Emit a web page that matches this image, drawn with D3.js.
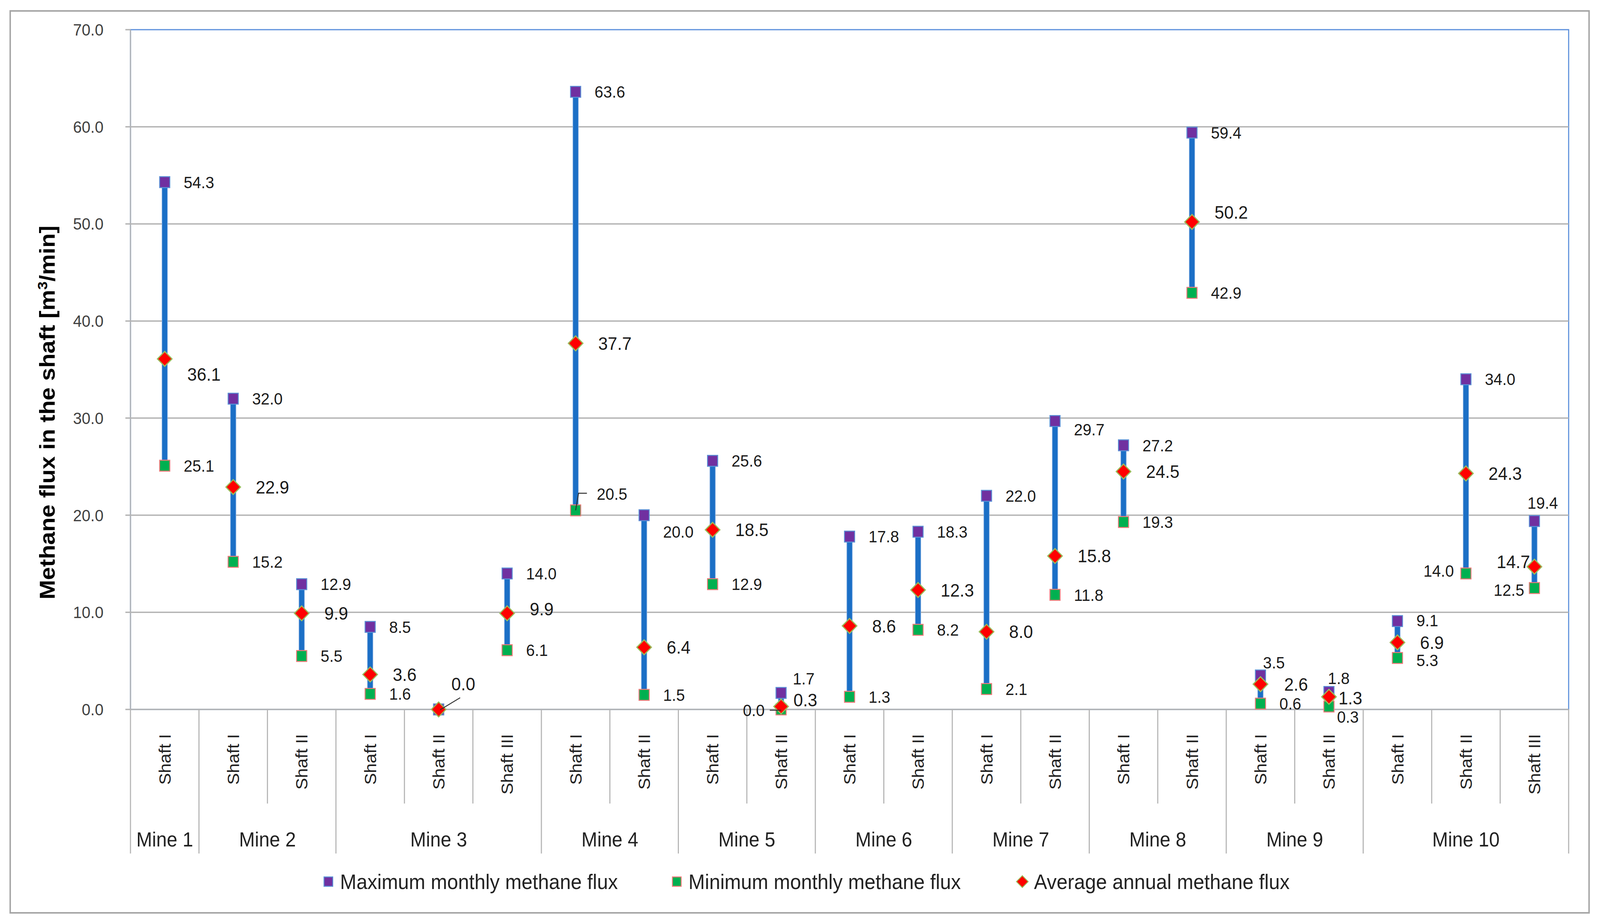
<!DOCTYPE html>
<html>
<head>
<meta charset="utf-8">
<script src="https://cdn.jsdelivr.net/npm/d3@7"></script>
<style>
  html, body { margin: 0; padding: 0; background: #fff; overflow: hidden; }
  svg { display: block; width: 100vw; height: 100vh; }
  text { font-family: "Liberation Sans", Arial, sans-serif; }
</style>
</head>
<body>
<svg id="chart" viewBox="0 0 4390 2364" preserveAspectRatio="none"></svg>
<script>
const shafts = [
  "Shaft I",
  "Shaft I", "Shaft II",
  "Shaft I", "Shaft II", "Shaft III",
  "Shaft I", "Shaft II",
  "Shaft I", "Shaft II",
  "Shaft I", "Shaft II",
  "Shaft I", "Shaft II",
  "Shaft I", "Shaft II",
  "Shaft I", "Shaft II",
  "Shaft I", "Shaft II", "Shaft III"
];
const mines = ["Mine 1", "Mine 2", "Mine 3", "Mine 4", "Mine 5", "Mine 6", "Mine 7", "Mine 8", "Mine 9", "Mine 10"];
const mineShaftCount = [1, 2, 3, 2, 2, 2, 2, 2, 2, 3];

const maxFlux = [54.3, 32.0, 12.9, 8.5, 0.0, 14.0, 63.6, 20.0, 25.6, 1.7, 17.8, 18.3, 22.0, 29.7, 27.2, 59.4, 3.5, 1.8, 9.1, 34.0, 19.4];
const minFlux = [25.1, 15.2, 5.5, 1.6, 0.0, 6.1, 20.5, 1.5, 12.9, 0.0, 1.3, 8.2, 2.1, 11.8, 19.3, 42.9, 0.6, 0.3, 5.3, 14.0, 12.5];
const avgFlux = [36.1, 22.9, 9.9, 3.6, 0.0, 9.9, 37.7, 6.4, 18.5, 0.3, 8.6, 12.3, 8.0, 15.8, 24.5, 50.2, 2.6, 1.3, 6.9, 24.3, 14.7];

const yTicks = [0, 10, 20, 30, 40, 50, 60, 70];
const legendLabels = ["Maximum monthly methane flux", "Minimum monthly methane flux", "Average annual methane flux"];

// hand-placed data labels, like the moved labels in the original chart
const labelNudge = {
  "avg-0": { dy: 39 },
  "max-4": { hide: true },
  "min-4": { hide: true },
  "avg-4": { ox: 35, dy: -65, leader: [[4, 1], [59, -30]] },
  "avg-5": { dy: -11 },
  "min-6": { ox: 58, dy: -42, leader: [[0, 0], [8, -44], [31, -44]] },
  "max-7": { dy: 42 },
  "max-9": { ox: 32, dy: -37 },
  "avg-9": { ox: 34, dy: -17 },
  "min-9": { ox: -45, dy: 2, anchor: "end", leader: [[-31, 2], [0, 2]] },
  "max-13": { dy: 22 },
  "avg-15": { dy: -25 },
  "max-16": { ox: 7, dy: -33 },
  "avg-16": { ox: 65 },
  "max-17": { ox: -3, dy: -35 },
  "avg-17": { ox: 26, dy: 3 },
  "min-17": { ox: 22, dy: 26 },
  "max-18": { dy: -2 },
  "min-18": { dy: 6 },
  "min-19": { ox: -33, dy: -7, anchor: "end" },
  "max-20": { ox: -19, dy: -47 },
  "avg-20": { ox: -12, dy: -13, anchor: "end" },
  "min-20": { ox: -28, dy: 5, anchor: "end" }
};

const svg = d3.select("#chart");
const plotLeft = 358, plotRight = 4304, plotTop = 76, plotBottom = 1817;

const x = d3.scaleBand().domain(d3.range(shafts.length)).range([plotLeft, plotRight]).padding(0);
const y = d3.scaleLinear().domain([0, 70]).range([plotBottom, plotTop]);
const cx = i => x(i) + x.bandwidth() / 2;

// outer chart frame
svg.append("rect")
  .attr("x", 28).attr("y", 28).attr("width", 4332).attr("height", 2310)
  .attr("fill", "#fff").attr("stroke", "#a6a6a6").attr("stroke-width", 4);

// plot area border (blue)
svg.append("rect")
  .attr("x", plotLeft).attr("y", plotTop).attr("width", plotRight - plotLeft).attr("height", plotBottom - plotTop)
  .attr("fill", "none").attr("stroke", "#5b8fdc").attr("stroke-width", 3);

// gridlines
svg.append("g").selectAll("line")
  .data(yTicks.filter(d => d < 70))
  .join("line")
  .attr("x1", plotLeft - 14).attr("x2", plotRight)
  .attr("y1", d => y(d)).attr("y2", d => y(d))
  .attr("stroke", "#b4b4b4").attr("stroke-width", 3.5);

svg.append("line")
  .attr("x1", plotLeft - 14).attr("x2", plotLeft).attr("y1", y(70)).attr("y2", y(70))
  .attr("stroke", "#b4b4b4").attr("stroke-width", 3.5);

// y axis line
svg.append("line")
  .attr("x1", plotLeft).attr("x2", plotLeft).attr("y1", plotTop).attr("y2", plotBottom)
  .attr("stroke", "#b4b4b4").attr("stroke-width", 3);

// y tick labels
svg.append("g").selectAll("text")
  .data(yTicks)
  .join("text")
  .attr("x", 284).attr("y", d => y(d)).attr("dy", "0.35em")
  .attr("text-anchor", "end").attr("font-size", 43).attr("fill", "#404040")
  .text(d => d3.format(".1f")(d));

// y axis title
const title = svg.append("text")
  .attr("transform", `translate(129,${(plotTop + plotBottom) / 2 + 110}) rotate(-90)`)
  .attr("text-anchor", "middle").attr("dy", "0.35em")
  .attr("font-size", 60).attr("font-weight", "bold").attr("fill", "#000");
title.append("tspan").text("Methane flux in the shaft [m");
title.append("tspan").attr("baseline-shift", "super").attr("font-size", 38).text("3");
title.append("tspan").text("/min]");

// category separators
const mineStarts = [0];
mineShaftCount.forEach((n, i) => mineStarts.push(mineStarts[i] + n));
const mineEdges = new Set(mineStarts);

svg.append("g").selectAll("line")
  .data(d3.range(shafts.length + 1))
  .join("line")
  .attr("x1", i => i < shafts.length ? x(i) : plotRight)
  .attr("x2", i => i < shafts.length ? x(i) : plotRight)
  .attr("y1", plotBottom)
  .attr("y2", i => mineEdges.has(i) ? 2186 : 2058)
  .attr("stroke", "#b4b4b4").attr("stroke-width", 3);

// shaft labels (rotated)
svg.append("g").selectAll("text")
  .data(shafts)
  .join("text")
  .attr("transform", (d, i) => `translate(${cx(i)},1880) rotate(-90)`)
  .attr("text-anchor", "end").attr("dy", "0.36em")
  .attr("font-family", "DejaVu Sans, Verdana, sans-serif")
  .attr("font-size", 45).attr("fill", "#222")
  .text(d => d);

// mine labels
svg.append("g").selectAll("text")
  .data(mines)
  .join("text")
  .attr("x", (d, i) => {
    const a = x(mineStarts[i]);
    const b = mineStarts[i + 1] < shafts.length ? x(mineStarts[i + 1]) : plotRight;
    return (a + b) / 2;
  })
  .attr("y", 2168)
  .attr("text-anchor", "middle").attr("font-size", 52).attr("fill", "#222")
  .text(d => d);

// high-low bars
svg.append("g").selectAll("rect")
  .data(d3.range(shafts.length))
  .join("rect")
  .attr("x", i => cx(i) - 7.5)
  .attr("y", i => y(maxFlux[i]))
  .attr("width", 15)
  .attr("height", i => y(minFlux[i]) - y(maxFlux[i]))
  .attr("fill", "#1b6fc6").attr("stroke", "#86aee0").attr("stroke-width", 1.5);

// markers
const sq = 28;
svg.append("g").selectAll("rect")
  .data(d3.range(shafts.length))
  .join("rect")
  .attr("x", i => cx(i) - sq / 2).attr("y", i => y(minFlux[i]) - sq / 2)
  .attr("width", sq).attr("height", sq)
  .attr("fill", "#00b050").attr("stroke", "#f07a7a").attr("stroke-width", 2.5);

svg.append("g").selectAll("rect")
  .data(d3.range(shafts.length))
  .join("rect")
  .attr("x", i => cx(i) - sq / 2).attr("y", i => y(maxFlux[i]) - sq / 2)
  .attr("width", sq).attr("height", sq)
  .attr("fill", "#7030a0").attr("stroke", "#5b8fd5").attr("stroke-width", 2.5);

const diamond = "M0,-19L20,0L0,19L-20,0Z";
svg.append("g").selectAll("path")
  .data(d3.range(shafts.length))
  .join("path")
  .attr("transform", i => `translate(${cx(i)},${y(avgFlux[i])})`)
  .attr("d", diamond)
  .attr("fill", "#ff0000").attr("stroke", "#9bbb59").attr("stroke-width", 3);

// data labels
const series = [
  { key: "max", values: maxFlux, ox: 52, size: 43 },
  { key: "min", values: minFlux, ox: 52, size: 43 },
  { key: "avg", values: avgFlux, ox: 62, size: 47 }
];

const labelG = svg.append("g");
const leaderG = svg.append("g");
series.forEach(s => {
  s.values.forEach((v, i) => {
    const n = labelNudge[s.key + "-" + i] || {};
    if (n.hide) return;
    const px = cx(i), py = y(v);
    labelG.append("text")
      .attr("x", px + (n.ox !== undefined ? n.ox : s.ox))
      .attr("y", py + (n.dy || 0))
      .attr("dy", "0.35em")
      .attr("text-anchor", n.anchor || "start")
      .attr("font-size", s.size).attr("fill", "#1a1a1a")
      .text(d3.format(".1f")(v));
    if (n.leader) {
      leaderG.append("path")
        .attr("d", d3.line()(n.leader.map(p => [px + p[0], py + p[1]])))
        .attr("fill", "none").attr("stroke", "#303030").attr("stroke-width", 2.5);
    }
  });
});

// legend
const legendX = [901, 1857, 2805];
const legendG = svg.append("g");
legendLabels.forEach((lab, k) => {
  const lx = legendX[k], ly = 2258;
  if (k === 0) {
    legendG.append("rect").attr("x", lx - 12).attr("y", ly - 12).attr("width", 24).attr("height", 24)
      .attr("fill", "#7030a0").attr("stroke", "#5b8fd5").attr("stroke-width", 2.5);
  } else if (k === 1) {
    legendG.append("rect").attr("x", lx - 12).attr("y", ly - 12).attr("width", 24).attr("height", 24)
      .attr("fill", "#00b050").attr("stroke", "#f07a7a").attr("stroke-width", 2.5);
  } else {
    legendG.append("path").attr("transform", `translate(${lx},${ly}) scale(0.8)`).attr("d", diamond)
      .attr("fill", "#ff0000").attr("stroke", "#9bbb59").attr("stroke-width", 3);
  }
  legendG.append("text")
    .attr("x", lx + 32).attr("y", ly).attr("dy", "0.35em")
    .attr("font-size", 54).attr("fill", "#222")
    .text(lab);
});
</script>
</body>
</html>
